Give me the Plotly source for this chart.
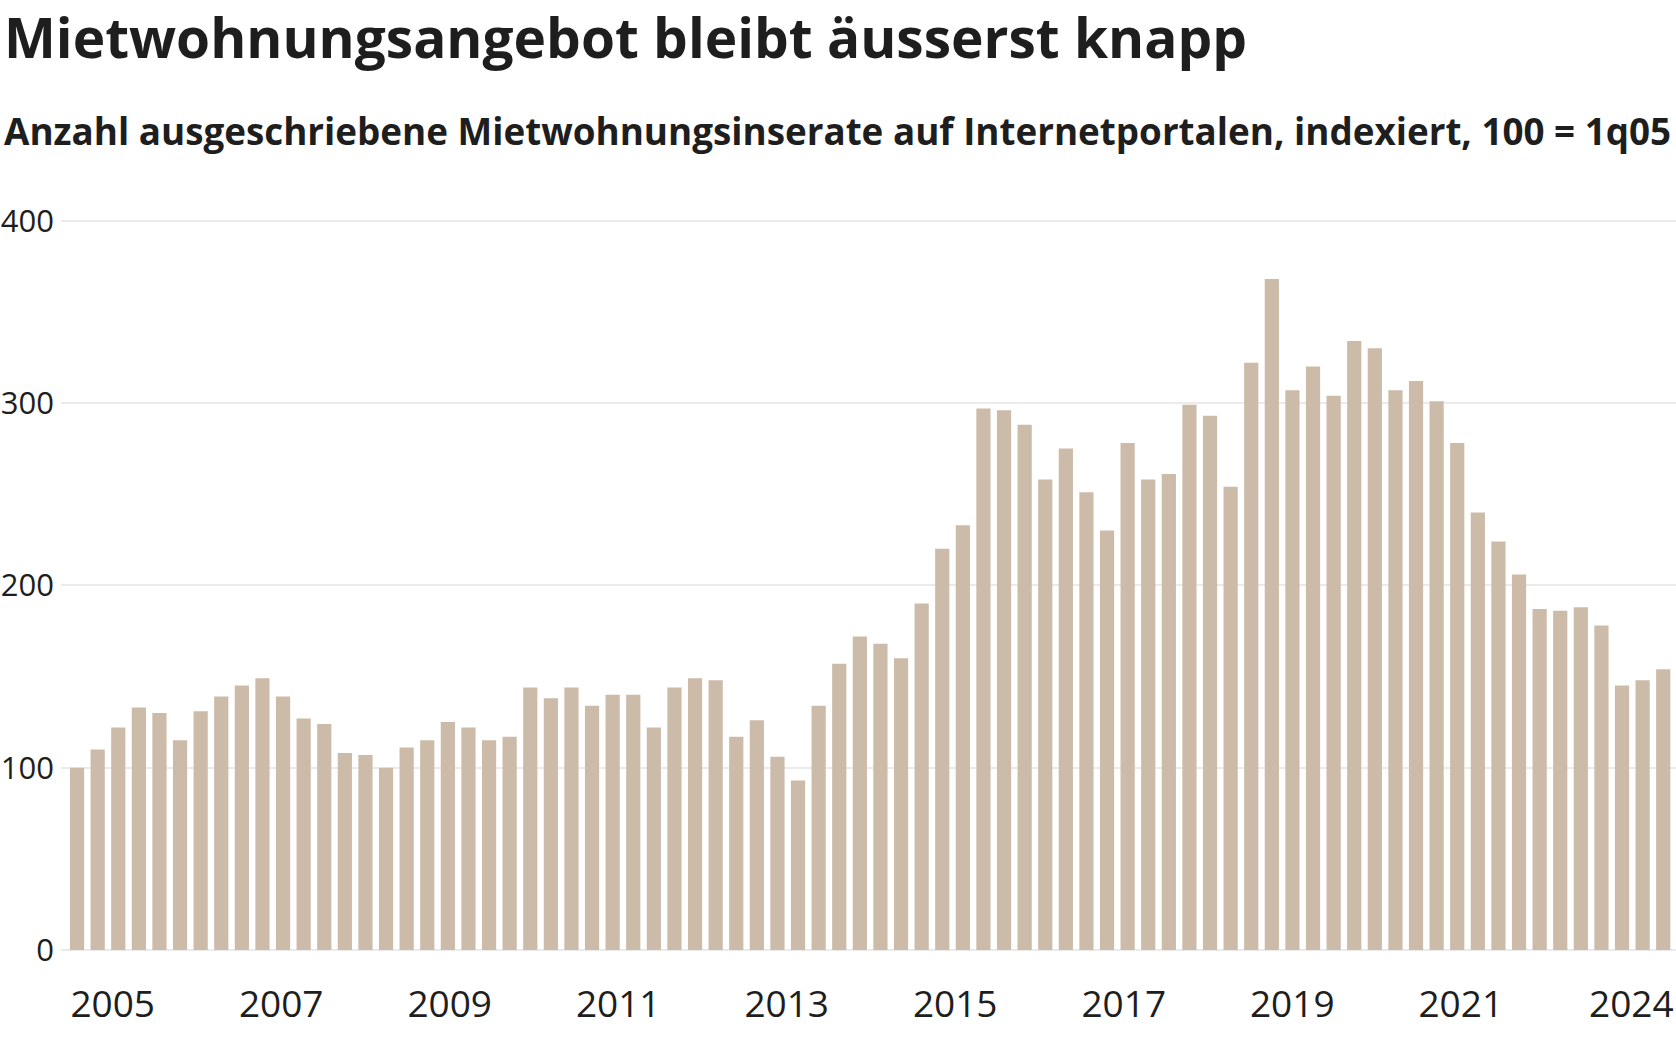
import plotly.graph_objects as go

# ---- data -------------------------------------------------------------
quarters = [f"{q}q{y % 100:02d}" for y in range(2005, 2025) for q in range(1, 5)][:78]

values = [100, 110, 122, 133, 130, 115, 131, 139, 145, 149,
          139, 127, 124, 108, 107, 100, 111, 115, 125, 122,
          115, 117, 144, 138, 144, 134, 140, 140, 122, 144,
          149, 148, 117, 126, 106, 93, 134, 157, 172, 168,
          160, 190, 220, 233, 297, 296, 288, 258, 275, 251,
          230, 278, 258, 261, 299, 293, 254, 322, 368, 307,
          320, 304, 334, 330, 307, 312, 301, 278, 240, 224,
          206, 187, 186, 188, 178, 145, 148, 154]

x_tick_labels = ["2005", "2007", "2009", "2011", "2013", "2015", "2017", "2019", "2021", "2024"]
y_tick_values = [0, 100, 200, 300, 400]

title = "Mietwohnungsangebot bleibt äusserst knapp"
subtitle = "Anzahl ausgeschriebene Mietwohnungsinserate auf Internetportalen, indexiert, 100 = 1q05"

# ---- geometry ---------------------------------------------------------
W, H = 1676, 1041
ML, MR, MT, MB = 61, 0, 217.4, 91
PW = W - ML - MR
PH = H - MT - MB

def year_pos(label):
    yr = int(label)
    pos = 1.73 + (yr - 2005) * 4.09
    return min(pos, 75.45)

tickvals = [year_pos(t) for t in x_tick_labels]

FONT = "Open Sans"
TXT = "#1e1e1e"
BAR = "#CDBBAA"
GRID = "#ebebeb"

fig = go.Figure(
    go.Bar(
        x=list(range(len(values))),
        y=values,
        customdata=quarters,
        marker=dict(color=BAR, line=dict(width=0)),
        hovertemplate="%{customdata}: %{y}<extra></extra>",
    )
)

fig.update_layout(
    width=W,
    height=H,
    margin=dict(l=ML, r=MR, t=MT, b=MB, pad=0, autoexpand=False),
    paper_bgcolor="white",
    plot_bgcolor="white",
    bargap=0.31,
    showlegend=False,
    font=dict(family=FONT, color=TXT),
    xaxis=dict(
        range=[-0.78, 77.62],
        tickmode="array",
        tickvals=tickvals,
        ticktext=x_tick_labels,
        tickfont=dict(size=37, color=TXT),
        showgrid=False,
        zeroline=False,
        showline=False,
        ticks="",
        ticklabelstandoff=29,
        ticklabeloverflow="allow",
        automargin=False,
        fixedrange=True,
    ),
    yaxis=dict(
        range=[0, 402],
        tickmode="array",
        tickvals=y_tick_values,
        ticktext=[str(v) for v in y_tick_values],
        tickfont=dict(size=31, color=TXT),
        showgrid=True,
        gridcolor=GRID,
        gridwidth=1.5,
        zeroline=True,
        zerolinecolor=GRID,
        zerolinewidth=2,
        showline=False,
        ticks="",
        ticklabelstandoff=6,
        automargin=False,
        fixedrange=True,
    ),
    annotations=[
        dict(
            text=f"<b>{title}</b>",
            xref="paper", yref="paper",
            x=(2 - ML) / PW, y=(H - MB - 37) / PH,
            xanchor="left", yanchor="middle",
            showarrow=False,
            font=dict(size=55, family=FONT, color=TXT),
        ),
        dict(
            text=f"<b>{subtitle}</b>",
            xref="paper", yref="paper",
            x=(2 - ML) / PW, y=(H - MB - 131) / PH,
            xanchor="left", yanchor="middle",
            showarrow=False,
            font=dict(size=36.8, family=FONT, color=TXT),
        ),
    ],
)

fig.write_html(
    "out.html",
    config={"displayModeBar": False},
    post_script="document.body.style.margin='0px';document.body.style.padding='0px';",
)
